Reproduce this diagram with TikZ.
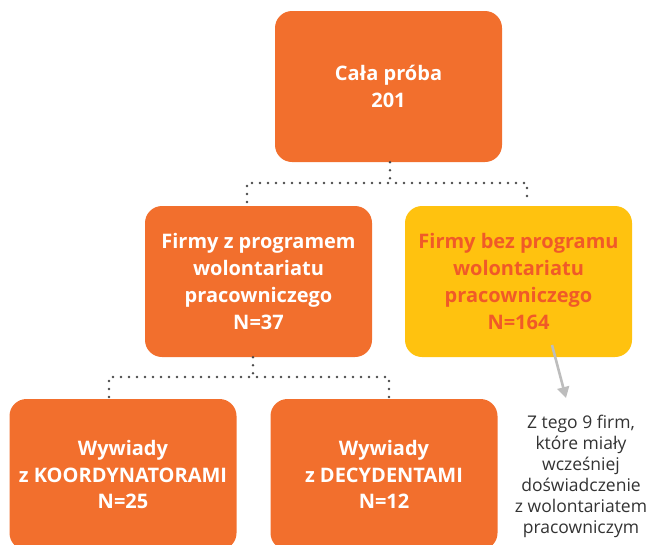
\documentclass[tikz,border=0pt]{standalone}
\usepackage{fontspec}
\setmainfont{Open Sans}
\usetikzlibrary{arrows.meta}
\definecolor{boxorange}{HTML}{F26F2D}
\definecolor{boxyellow}{HTML}{FFC20F}
\definecolor{yeltext}{HTML}{F05A28}
\definecolor{dotgray}{HTML}{4A4A4A}
\definecolor{arrgray}{HTML}{BDBDBD}
\definecolor{notegray}{HTML}{333333}
\tikzset{
  box/.style={rounded corners=17pt, minimum width=227pt, minimum height=151pt,
    inner sep=0pt, align=center, text=white,
    font=\fontsize{20}{26.7}\selectfont\bfseries},
  orangebox/.style={box, fill=boxorange},
  yellowbox/.style={box, fill=boxyellow, text=yeltext},
  dots/.style={draw=dotgray, line width=2.8pt, line cap=round, dash pattern=on 0pt off 8pt},
  arr/.style={draw=arrgray, line width=2.6pt, -{Triangle[width=12pt,length=11pt]}},
  note/.style={align=center, text=notegray, inner sep=0pt,
    font=\fontsize{17.5}{21}\selectfont}
}
\begin{document}
\begin{tikzpicture}[x=1pt,y=-1pt]
\useasboundingbox (0,0) rectangle (647,544);
\clip (0,0) rectangle (647,544);
\node[orangebox] (top) at (388.5,86.5) {Cała próba\\201};
\node[orangebox] (mid1) at (258.5,281.5) {Firmy z programem\\wolontariatu\\pracowniczego\\N=37};
\node[yellowbox] (mid2) at (518.5,281.5) {Firmy bez programu\\wolontariatu\\pracowniczego\\N=164};
\node[orangebox] (bot1) at (123,474.5) {Wywiady\\z KOORDYNATORAMI\\N=25};
\node[orangebox] (bot2) at (384,474.5) {Wywiady\\z DECYDENTAMI\\N=12};
\node[note] (note) at (581,476) {Z tego 9 firm,\\które miały\\wcześniej\\doświadczenie\\z wolontariatem\\pracowniczym};
% connectors level 1
\coordinate (h1) at (390,183);
\coordinate (c1l) at (247,202);
\coordinate (c1r) at (527,202);
\draw[dots] (h1 |- top.south) -- (h1);
\draw[dots] (c1l) |- (h1) -| (c1r);
% connectors level 2
\coordinate (h2) at (253,377);
\coordinate (c2l) at (109,397);
\coordinate (c2r) at (389,397);
\draw[dots] (h2 |- mid1.south) -- (h2);
\draw[dots] (c2l) |- (h2) -| (c2r);
% arrow to note
\coordinate (as) at (552,345);
\coordinate (ae) at (566,398);
\draw[arr] (as) -- (ae);
\end{tikzpicture}
\end{document}
